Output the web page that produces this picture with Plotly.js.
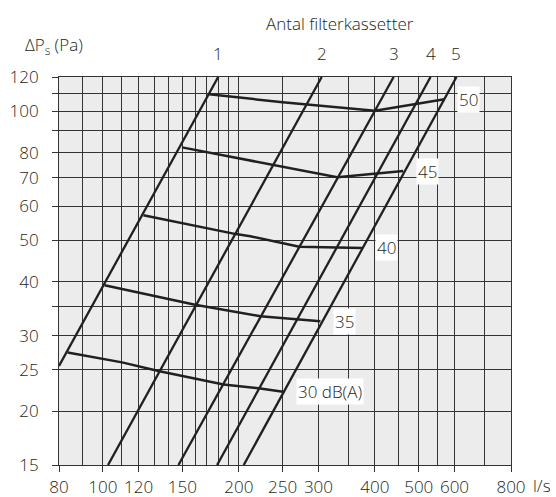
<!DOCTYPE html>
<html>
<head>
<meta charset="utf-8">
<script src="https://cdn.plot.ly/plotly-3.0.1.min.js"></script>
<style>html,body{margin:0;padding:0;background:#fff;}#chart{width:556px;height:497px;}</style>
</head>
<body>
<div id="chart"></div>
<script>
// Filter-count lines (Antal filterkassetter), endpoints
const filterCounts = ["1", "2", "3", "4", "5"];
const filterQ = [[80, 180], [102.7, 305], [147, 440], [179, 531], [205, 606]];
const filterP = [[25.5, 120], [15, 120], [15, 120], [15, 120], [15, 120]];

// Sound level curves dB(A)
const dbLabels = ["30 dB(A)", "35", "40", "45", "50"];
const db30Q = [83.6, 110.3, 133.5, 160.2, 185, 223, 250.5];
const db30P = [27.4, 26.0, 24.8, 23.8, 23.1, 22.6, 22.2];
const db35Q = [100.9, 160, 223, 269, 303];
const db35P = [39.3, 35.4, 33.3, 32.7, 32.4];
const db40Q = [123, 160, 197, 212, 251, 272, 375];
const db40P = [57.2, 54.0, 51.7, 51.1, 49.2, 48.3, 48.0];
const db45Q = [149.7, 330, 462];
const db45P = [82.3, 70.1, 72.5];
const db50Q = [172, 250, 400, 570];
const db50P = [109.4, 104.8, 100.2, 106.5];

// Axis ticks
const xTickVals = [80, 100, 120, 150, 200, 250, 300, 400, 500, 600, 800];
const xTickText = ["80", "100", "120", "150", "200", "250", "300", "400", "500", "600", "800"];
const xGridVals = [90, 110, 130, 140, 160, 170, 180, 190, 350, 450, 550, 700];
const yTickVals = [15, 20, 25, 30, 40, 50, 60, 70, 80, 100, 120];
const yTickText = ["15", "20", "25", "30", "40", "50", "60", "70", "80", "100", "120"];
const yGridVals = [35, 90, 110];

const ink = '#231f20';
const gridC = '#333333';
const fontSpec = {family: 'Open Sans, sans-serif', size: 17, color: ink, weight: 300};

const traces = [];
filterQ.forEach((q, i) => {
  traces.push({x: q, y: filterP[i], mode: 'lines', type: 'scatter',
    line: {color: ink, width: 2.3}, hoverinfo: 'skip', showlegend: false});
});
const dbQ = [db30Q, db35Q, db40Q, db45Q, db50Q];
const dbP = [db30P, db35P, db40P, db45P, db50P];
dbQ.forEach((q, i) => {
  traces.push({x: q, y: dbP[i], mode: 'lines', type: 'scatter',
    line: {color: ink, width: 2.5}, hoverinfo: 'skip', showlegend: false});
});

const annotations = [];
dbQ.forEach((q, i) => {
  annotations.push({x: Math.log10(q[q.length - 1]), y: Math.log10(dbP[i][dbP[i].length - 1]),
    xref: 'x', yref: 'y', text: dbLabels[i], showarrow: false,
    xanchor: 'left', yanchor: 'middle', xshift: 13, bgcolor: '#ffffff', borderpad: 1,
    font: fontSpec});
});
filterQ.forEach((q, i) => {
  annotations.push({x: Math.log10(q[1]), y: 1, xref: 'x', yref: 'paper',
    text: filterCounts[i], showarrow: false, xanchor: 'center', yanchor: 'middle',
    yshift: 24, font: fontSpec});
});
annotations.push({x: 0.621, y: 1, xref: 'paper', yref: 'paper', text: 'Antal filterkassetter',
  showarrow: false, xanchor: 'center', yanchor: 'middle', yshift: 54, font: fontSpec});
annotations.push({x: -0.08, y: 1, xref: 'paper', yref: 'paper', text: 'ΔP<sub>s</sub> (Pa)',
  showarrow: false, xanchor: 'left', yanchor: 'middle', yshift: 32, font: fontSpec});
annotations.push({x: 1, y: 0, xref: 'paper', yref: 'paper', text: 'l/s',
  showarrow: false, xanchor: 'left', yanchor: 'middle', xshift: 20, yshift: -20, font: fontSpec});

const layout = {
  width: 556, height: 497,
  margin: {l: 59, r: 45, t: 77, b: 32, pad: 0},
  paper_bgcolor: '#ffffff', plot_bgcolor: '#ececec',
  font: fontSpec,
  showlegend: false,
  xaxis: {type: 'log', range: [Math.log10(80), Math.log10(800)],
    tickmode: 'array', tickvals: xTickVals, ticktext: xTickText,
    ticks: 'outside', ticklen: 6, tickcolor: gridC, tickwidth: 1, ticklabelstandoff: 1,
    showgrid: true, gridcolor: gridC, gridwidth: 1,
    minor: {tickmode: 'array', tickvals: xGridVals, showgrid: true, gridcolor: gridC, gridwidth: 1, ticks: ''},
    showline: true, mirror: true, linecolor: gridC, linewidth: 1, zeroline: false,
    tickfont: fontSpec},
  yaxis: {type: 'log', range: [Math.log10(15), Math.log10(120)],
    tickmode: 'array', tickvals: yTickVals, ticktext: yTickText,
    ticks: 'outside', ticklen: 6, tickcolor: gridC, tickwidth: 1, ticklabelstandoff: 10,
    showgrid: true, gridcolor: gridC, gridwidth: 1,
    minor: {tickmode: 'array', tickvals: yGridVals, showgrid: true, gridcolor: gridC, gridwidth: 1,
      ticks: 'outside', ticklen: 6, tickcolor: gridC},
    showline: true, mirror: true, linecolor: gridC, linewidth: 1, zeroline: false,
    tickfont: fontSpec},
  annotations: annotations
};

Plotly.newPlot('chart', traces, layout, {staticPlot: true, displayModeBar: false});
</script>
</body>
</html>
